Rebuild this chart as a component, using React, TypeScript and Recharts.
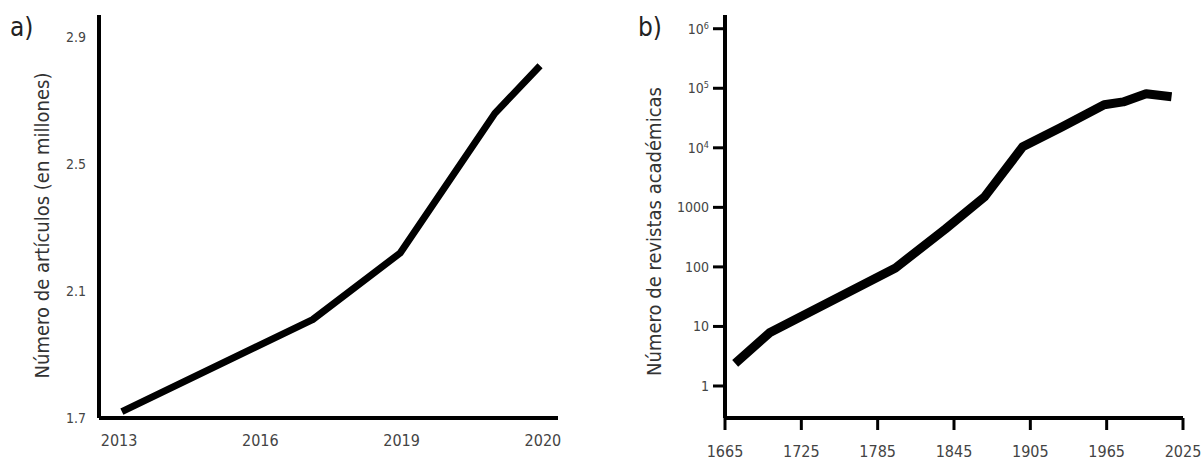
import React from "react"
import { Label, Line, LineChart, XAxis, YAxis } from "recharts"

// panel a: articles (millions); x in tick steps, since the axis labels are evenly spaced
const articlePos = [0.02, 1.37, 1.99, 2.66, 2.98]
const articleValues = [1.72, 2.01, 2.22, 2.66, 2.81]
const articleTickPos = [0, 1, 2, 3]
const articleTickLabels = ["2013", "2016", "2019", "2020"]
const articleYTicks = [1.7, 2.1, 2.5, 2.9]

// panel b: academic journals, log scale
const journalYears = [1673, 1700, 1799, 1838, 1869, 1899, 1929, 1963, 1978, 1996, 2016]
const journalValues = [2.4, 7.8, 96, 430, 1500, 10400, 22000, 53000, 59000, 81000, 72000]
const journalXTicks = [1665, 1725, 1785, 1845, 1905, 1965, 2025]
const journalYTicks = [1, 10, 100, 1000, 10000, 100000, 1000000]
const journalYLabels = ["1", "10", "100", "1000", "10^4", "10^5", "10^6"]

const FONT = '"Liberation Sans Narrow", "DejaVu Sans Condensed", "Roboto Condensed", sans-serif'

const articleData = articlePos.map((pos, i) => ({ pos, value: articleValues[i] }))
const journalData = journalYears.map((year, i) => ({ year, value: journalValues[i] }))

function LogTick(props: any) {
  const { x, y, payload } = props
  const idx = journalYTicks.indexOf(payload.value)
  const label = journalYLabels[idx] ?? String(payload.value)
  const parts = label.split("^")
  return (
    <text x={x} y={y} dy="0.36em" textAnchor="end" fill="#444" fontSize={14} fontFamily={FONT}>
      {parts.length === 2 ? (
        <>
          {parts[0]}
          <tspan dy="-0.55em" fontSize={9}>{parts[1]}</tspan>
        </>
      ) : (
        label
      )}
    </text>
  )
}

function axisTitle(text: string, dx: number, dy: number) {
  return ({ viewBox }: any) => {
    const cx = viewBox.x + dx
    const cy = viewBox.y + viewBox.height / 2 + dy
    return (
      <text
        x={cx}
        y={cy}
        transform={`rotate(-90, ${cx}, ${cy})`}
        textAnchor="middle"
        dominantBaseline="central"
        fill="#333"
        fontSize={20}
        fontFamily={FONT}
      >
        {text}
      </text>
    )
  }
}

export default function App() {
  return (
    <div
      style={{
        position: "absolute",
        left: 0,
        top: 0,
        width: 1202,
        height: 460,
        background: "#fff",
        fontFamily: FONT,
      }}
    >
      <div style={{ position: "absolute", left: 10, top: 12, fontSize: 26, color: "#222" }}>a)</div>
      <div style={{ position: "absolute", left: 638, top: 12, fontSize: 26, color: "#222" }}>b)</div>

      <div style={{ position: "absolute", left: 0, top: 0 }}>
        <LineChart width={600} height={460} data={articleData} margin={{ top: 15, right: 42, bottom: 0, left: 0 }}>
          <XAxis
            type="number"
            dataKey="pos"
            domain={[-0.142, 3.107]}
            ticks={articleTickPos}
            tickFormatter={(v: number) => articleTickLabels[articleTickPos.indexOf(v)] ?? ""}
            height={42}
            axisLine={{ stroke: "#000", strokeWidth: 4 }}
            tickLine={false}
            tickSize={0}
            tickMargin={17}
            tick={{ fill: "#444", fontSize: 16, fontFamily: FONT }}
            allowDataOverflow
          />
          <YAxis
            type="number"
            domain={[1.7, 2.97]}
            ticks={articleYTicks}
            width={99}
            axisLine={{ stroke: "#000", strokeWidth: 4 }}
            tickLine={false}
            tickSize={0}
            tickMargin={13}
            tick={{ fill: "#444", fontSize: 14, fontFamily: FONT }}
            allowDataOverflow
          >
            <Label content={axisTitle("Número de artículos (en millones)", 42, 9)} />
          </YAxis>
          <Line
            type="linear"
            dataKey="value"
            stroke="#000"
            strokeWidth={7}
            strokeLinejoin="round"
            dot={false}
            activeDot={false}
            isAnimationActive={false}
          />
        </LineChart>
      </div>

      <div style={{ position: "absolute", left: 600, top: 0 }}>
        <LineChart width={602} height={460} data={journalData} margin={{ top: 15, right: 19, bottom: 0, left: 0 }}>
          <XAxis
            type="number"
            dataKey="year"
            domain={[1665, 2025]}
            ticks={journalXTicks}
            height={42}
            axisLine={{ stroke: "#000", strokeWidth: 4 }}
            tickLine={{ stroke: "#000", strokeWidth: 3 }}
            tickSize={12}
            tickMargin={16}
            tick={{ fill: "#444", fontSize: 16, fontFamily: FONT }}
            allowDataOverflow
          />
          <YAxis
            type="number"
            scale="log"
            domain={[0.29, 1700000]}
            ticks={journalYTicks}
            width={125}
            axisLine={{ stroke: "#000", strokeWidth: 4 }}
            tickLine={{ stroke: "#000", strokeWidth: 3 }}
            tickSize={12}
            tickMargin={4}
            tick={<LogTick />}
            allowDataOverflow
          >
            <Label content={axisTitle("Número de revistas académicas", 54, 15)} />
          </YAxis>
          <Line
            type="linear"
            dataKey="value"
            stroke="#000"
            strokeWidth={9}
            strokeLinejoin="round"
            dot={false}
            activeDot={false}
            isAnimationActive={false}
          />
        </LineChart>
      </div>
    </div>
  )
}
